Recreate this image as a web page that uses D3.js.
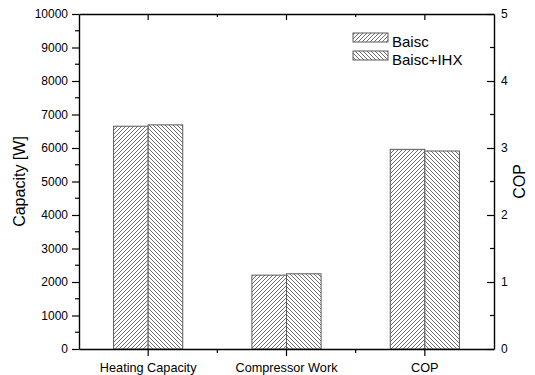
<!DOCTYPE html>
<html><head><meta charset="utf-8">
<script src="https://cdn.jsdelivr.net/npm/d3@7/dist/d3.min.js"></script>
<style>
body{margin:0;background:#fff;}
svg{display:block;font-family:"Liberation Sans",Arial,sans-serif;}
</style></head>
<body><svg id="c" width="535" height="375"></svg>
<script>
const categories = ["Heating Capacity","Compressor Work","COP"];
const seriesNames = ["Baisc","Baisc+IHX"];
const basicValues = [6650, 2205, 2.98];
const ihxValues = [6690, 2245, 2.955];
const leftTicks = [0,1000,2000,3000,4000,5000,6000,7000,8000,9000,10000];
const rightTicks = [0,1,2,3,4,5];

const svg = d3.select("#c");
const L = 79, R = 494, T = 14, B = 349;

const defs = svg.append("defs");
function hatch(id, dir){
  const p = defs.append("pattern").attr("id", id).attr("patternUnits","userSpaceOnUse")
    .attr("width",4).attr("height",4);
  p.append("rect").attr("width",4).attr("height",4).attr("fill","#fff");
  p.append("path")
    .attr("d", dir>0 ? "M-1,1 L1,-1 M0,4 L4,0 M3,5 L5,3" : "M-1,3 L1,5 M0,0 L4,4 M3,-1 L5,1")
    .attr("stroke","#6e6e6e").attr("stroke-width",1);
}
hatch("h0", 1); hatch("h1", -1);

const x = d3.scaleBand().domain(categories).range([L,R]).paddingInner(0.5).paddingOuter(0.25);
const xs = d3.scaleBand().domain(seriesNames).range([0, x.bandwidth()]);
const y = d3.scaleLinear().domain([0,10000]).range([B,T]);
const yR = d3.scaleLinear().domain([0,5]).range([B,T]);

const rows = categories.map((c,i)=>({cat:c, vals:[basicValues[i], ihxValues[i]]}));
const g = svg.append("g");
rows.forEach(r=>{
  const sc = r.cat === "COP" ? yR : y;
  r.vals.forEach((v,j)=>{
    g.append("rect")
      .attr("x", x(r.cat) + xs(seriesNames[j]))
      .attr("y", sc(v))
      .attr("width", xs.bandwidth())
      .attr("height", B - sc(v))
      .attr("fill", `url(#h${j})`)
      .attr("stroke","#5a5a5a").attr("stroke-width",1);
  });
});

const axStyle = sel => { sel.select(".domain").attr("stroke","#000").attr("stroke-width",1.4);
  sel.selectAll(".tick line").attr("stroke","#000").attr("stroke-width",1.2);
  sel.selectAll("text").attr("fill","#000").style("font-size","12px").style("font-family","'Liberation Sans',Arial,sans-serif"); };

const mids = categories.slice(0,-1).map((c,i)=> (x(c)+x.bandwidth()/2 + x(categories[i+1])+x.bandwidth()/2)/2);

const axB = svg.append("g").attr("transform",`translate(0,${B})`)
  .call(d3.axisBottom(x).tickSizeInner(7).tickSizeOuter(0).tickPadding(6));
axStyle(axB);
axB.selectAll("text").attr("dy","9.5px").style("font-size","12.7px");
axB.selectAll(".minor").data(mids).enter().append("line")
  .attr("x1",d=>d).attr("x2",d=>d).attr("y1",0).attr("y2",4).attr("stroke","#000").attr("stroke-width",1.2);

const axT = svg.append("g").attr("transform",`translate(0,${T})`)
  .call(d3.axisTop(x).tickSizeInner(-6).tickSizeOuter(0).tickFormat(""));
axStyle(axT);
axT.selectAll(".minor").data(mids).enter().append("line")
  .attr("x1",d=>d).attr("x2",d=>d).attr("y1",0).attr("y2",3).attr("stroke","#000").attr("stroke-width",1.2);

const axL = svg.append("g").attr("transform",`translate(${L},0)`)
  .call(d3.axisLeft(y).tickValues(leftTicks).tickSizeInner(7).tickSizeOuter(0).tickPadding(4).tickFormat(d3.format("d")));
axStyle(axL);
const leftMinor = leftTicks.slice(0,-1).map(t=>t+500);
axL.selectAll(".minor").data(leftMinor).enter().append("line")
  .attr("x1",-4).attr("x2",0).attr("y1",d=>y(d)).attr("y2",d=>y(d)).attr("stroke","#000").attr("stroke-width",1.2);

const axR = svg.append("g").attr("transform",`translate(${R},0)`)
  .call(d3.axisRight(yR).tickValues(rightTicks).tickSizeInner(-7).tickSizeOuter(0).tickPadding(7).tickFormat(d3.format("d")));
axStyle(axR);
const rightMinor = rightTicks.slice(0,-1).map(t=>t+0.5);
axR.selectAll(".minor").data(rightMinor).enter().append("line")
  .attr("x1",-4).attr("x2",0).attr("y1",d=>yR(d)).attr("y2",d=>yR(d)).attr("stroke","#000").attr("stroke-width",1.2);

svg.append("text").attr("transform",`translate(25,${(T+B)/2}) rotate(-90)`)
  .attr("text-anchor","middle").style("font-size","16px").text("Capacity [W]");
svg.append("text").attr("transform",`translate(525,${(T+B)/2}) rotate(-90)`)
  .attr("text-anchor","middle").style("font-size","16px").text("COP");

const lg = svg.append("g");
seriesNames.forEach((s,j)=>{
  const yy = 33 + j*18;
  lg.append("rect").attr("x",353).attr("y",yy).attr("width",35).attr("height",9)
    .attr("fill",`url(#h${j})`).attr("stroke","#5a5a5a").attr("stroke-width",1);
  lg.append("text").attr("x",392).attr("y",yy+14).style("font-size","15px").text(s);
});
</script></body></html>
